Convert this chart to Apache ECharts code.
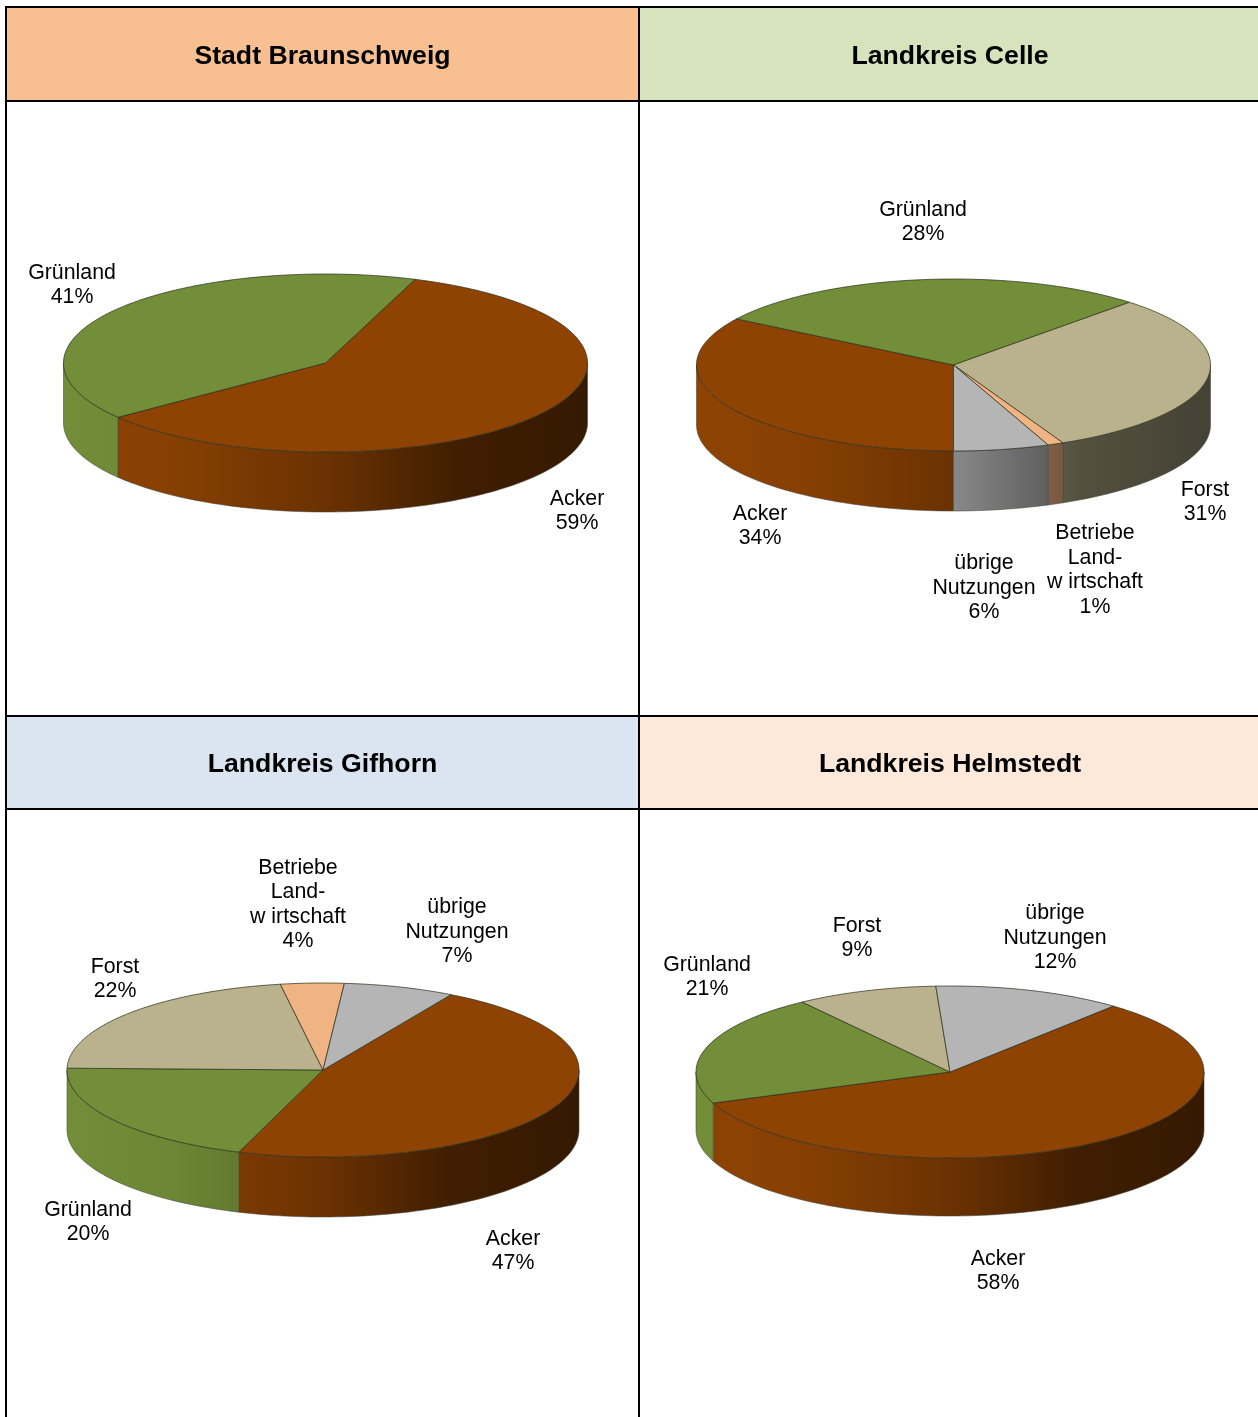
<!DOCTYPE html>
<html>
<head>
<meta charset="utf-8">
<style>html,body{margin:0;padding:0;background:#fff}#c{width:1258px;height:1417px}</style>
<script src="https://cdn.jsdelivr.net/npm/echarts@6/dist/echarts.min.js"></script>
</head>
<body>
<div id="c"></div>
<script>
// ---- data ----
const titles = ['Stadt Braunschweig', 'Landkreis Celle', 'Landkreis Gifhorn', 'Landkreis Helmstedt'];
const braunschweigNames = ['Acker', 'Grünland'];
const braunschweigValues = [59, 41];
const celleNames = ['Acker', 'Grünland', 'Forst', 'Betriebe\nLand-\nw irtschaft', 'übrige\nNutzungen'];
const celleValues = [34, 28, 31, 1, 6];
const gifhornNames = ['Acker', 'Grünland', 'Forst', 'Betriebe\nLand-\nw irtschaft', 'übrige\nNutzungen'];
const gifhornValues = [47, 20, 22, 4, 7];
const helmstedtNames = ['Acker', 'Grünland', 'Forst', 'übrige\nNutzungen'];
const helmstedtValues = [58, 21, 9, 12];

// ---- look and layout ----
const sliceColors = {
  'Acker': [142, 67, 3], 'Grünland': [114, 142, 56], 'Forst': [185, 178, 141],
  'Betriebe': [240, 179, 131], 'übrige': [181, 181, 181]
};
const pies = [
  { names: braunschweigNames, values: braunschweigValues, cx: 325.5, cy: 363, rx: 262, ry: 89, depth: 60, start: -70,
    labels: [[577, 511], [72, 285]] },
  { names: celleNames, values: celleValues, cx: 953.5, cy: 365, rx: 257, ry: 86, depth: 60, start: 90,
    labels: [[760, 526], [923, 222], [1205, 502], [1095, 570], [984, 588]] },
  { names: gifhornNames, values: gifhornValues, cx: 323, cy: 1070, rx: 256, ry: 87, depth: 60, start: -60,
    labels: [[513, 1251], [88, 1222], [115, 979], [298, 904.5], [457, 932]] },
  { names: helmstedtNames, values: helmstedtValues, cx: 950, cy: 1072, rx: 254, ry: 86, depth: 58, start: -50,
    labels: [[998, 1271], [707, 977], [857, 938], [1055, 938]] }
];
const FONT = '"Liberation Sans", Arial, sans-serif';
const shade = (rgb, f) => 'rgb(' + rgb.map(c => Math.round(c * f)).join(',') + ')';
const rad = d => d * Math.PI / 180;

function arc(p, a0, a1, dy) {
  const pts = [];
  const n = Math.max(2, Math.ceil(Math.abs(a1 - a0) / 1.5));
  for (let i = 0; i <= n; i++) {
    const t = rad(a0 + (a1 - a0) * i / n);
    pts.push([p.cx + p.rx * Math.cos(t), p.cy + dy + p.ry * Math.sin(t)]);
  }
  return pts;
}

function renderSlice(p) {
  return function (params, api) {
    const i = params.dataIndex;
    const total = p.values.reduce((a, b) => a + b, 0);
    const before = p.values.slice(0, i).reduce((a, b) => a + b, 0);
    const a0 = p.start + before / total * 360;
    const a1 = a0 + api.value(0) / total * 360;
    const rgb = sliceColors[p.names[i].split('\n')[0]];
    const children = [];

    // front wall: the parts of the slice whose rim faces the viewer (0..180 deg)
    [-720, -360, 0, 360].forEach(k => {
      const w0 = Math.max(a0, k), w1 = Math.min(a1, k + 180);
      if (w1 <= w0) return;
      const pts = arc(p, w0, w1, 0).concat(arc(p, w1, w0, p.depth));
      children.push({
        type: 'polygon', shape: { points: pts },
        style: {
          fill: {
            type: 'linear', global: true,
            x: p.cx - p.rx, y: 0, x2: p.cx + p.rx, y2: 0,
            colorStops: [
              { offset: 0, color: shade(rgb, 1) },
              { offset: 0.2, color: shade(rgb, 0.95) },
              { offset: 0.5, color: shade(rgb, 0.75) },
              { offset: 0.75, color: shade(rgb, 0.45) },
              { offset: 1, color: shade(rgb, 0.37) }
            ]
          },
          stroke: 'rgba(70,70,60,0.55)', lineWidth: 1
        }
      });
    });

    // top surface
    const top = [[p.cx, p.cy]].concat(arc(p, a0, a1, 0));
    children.push({
      type: 'polygon', shape: { points: top },
      style: { fill: shade(rgb, 1), stroke: 'rgba(40,45,25,0.7)', lineWidth: 1 }
    });

    // label
    children.push({
      type: 'text', z2: 10, x: p.labels[i][0], y: p.labels[i][1],
      style: {
        text: p.names[i] + '\n' + api.value(0) + '%',
        fill: '#000', font: '21.33px ' + FONT, lineHeight: 24.5,
        align: 'center', verticalAlign: 'middle'
      }
    });
    return { type: 'group', children };
  };
}

const W = 1258, H = 1417;
const gridX = [6, 639], gridY = [7, 101, 716, 809];
const fills = [
  { x: gridX[0], y: gridY[0], w: gridX[1] - gridX[0], h: gridY[1] - gridY[0], c: '#F8BF90' },
  { x: gridX[1], y: gridY[0], w: W - gridX[1], h: gridY[1] - gridY[0], c: '#D7E3BC' },
  { x: gridX[0], y: gridY[2], w: gridX[1] - gridX[0], h: gridY[3] - gridY[2], c: '#DBE5F1' },
  { x: gridX[1], y: gridY[2], w: W - gridX[1], h: gridY[3] - gridY[2], c: '#FCE9DA' }
];
const line = (x1, y1, x2, y2) => ({
  type: 'line', shape: { x1, y1, x2, y2 }, z: 5, silent: true,
  style: { stroke: '#000', lineWidth: 2 }
});
const graphics = fills.map(f => ({
  type: 'rect', shape: { x: f.x, y: f.y, width: f.w, height: f.h }, z: -1, silent: true, style: { fill: f.c }
})).concat(
  gridY.map(y => line(gridX[0] - 1, y, W, y)),
  gridX.map(x => line(x, gridY[0], x, H))
);
const titleCenters = [[322.5, 57], [950, 57], [322.5, 765], [950, 765]];

const chart = echarts.init(document.getElementById('c'), null, { renderer: 'canvas' });
chart.setOption({
  animation: false,
  backgroundColor: '#fff',
  title: titles.map((t, i) => ({
    text: t, left: titleCenters[i][0], top: titleCenters[i][1], padding: 0, textAlign: 'center', textVerticalAlign: 'middle',
    textStyle: { fontFamily: FONT, fontSize: 26.67, fontWeight: 'bold', color: '#000' }
  })),
  graphic: graphics,
  series: pies.map(p => ({
    type: 'custom', coordinateSystem: 'none', silent: true,
    data: p.values.map(v => [v]),
    renderItem: renderSlice(p)
  }))
});
</script>
</body>
</html>
